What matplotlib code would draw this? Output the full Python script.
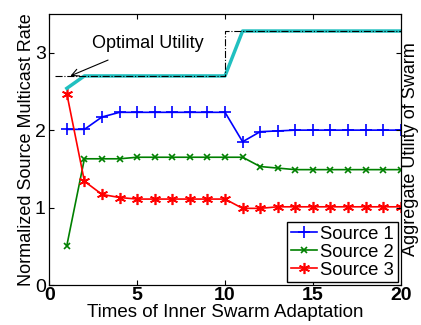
import numpy as np
import matplotlib
matplotlib.use("Agg")
import matplotlib.pyplot as plt

plt.rcParams['font.family'] = ['Liberation Sans', 'DejaVu Sans']

# data
times = np.arange(1, 21)
source1 = [2.01, 2.01, 2.17, 2.23, 2.23, 2.23, 2.23, 2.23, 2.23, 2.23,
           1.85, 1.98, 1.99, 2.0, 2.0, 2.0, 2.0, 2.0, 2.0, 2.0]
source2 = [0.51, 1.63, 1.63, 1.63, 1.65, 1.65, 1.65, 1.65, 1.65, 1.65,
           1.65, 1.53, 1.51, 1.49, 1.49, 1.49, 1.49, 1.49, 1.49, 1.49]
source3 = [2.47, 1.34, 1.17, 1.13, 1.11, 1.11, 1.11, 1.11, 1.11, 1.11,
           0.99, 0.99, 1.01, 1.01, 1.01, 1.01, 1.01, 1.01, 1.01, 1.01]
aggregate = [2.54, 2.70, 2.70, 2.70, 2.70, 2.70, 2.70, 2.70, 2.70, 2.70,
             3.28, 3.28, 3.28, 3.28, 3.28, 3.28, 3.28, 3.28, 3.28, 3.28]
opt_x = [0.3, 10, 10, 20]
opt_y = [2.70, 2.70, 3.28, 3.28]

fig, ax = plt.subplots(figsize=(4.21, 3.25), dpi=100)
fig.subplots_adjust(left=0.117, right=0.952, top=0.957, bottom=0.123)

ax.plot(times, source1, color='blue', marker='+', ms=8, mew=1.2, lw=1.2, label='Source 1')
ax.plot(times, source2, color='green', marker='x', ms=5, mew=1.2, lw=1.2, label='Source 2')
ax.plot(times, source3, color='red', marker=(6, 2, 0), ms=8, mew=1.2, lw=1.2, label='Source 3')
ax.plot(times, aggregate, color='#20c0c0', lw=2.5)
ax.plot(opt_x, opt_y, color='black', ls='-.', lw=0.8)

ax.annotate('Optimal Utility', xy=(1.2, 2.70), xytext=(5.6, 3.12),
            fontsize=13, ha='center', va='center',
            arrowprops=dict(arrowstyle='->', color='black', lw=0.8,
                            shrinkA=10, shrinkB=0))

ax.set_xlim(0, 20)
ax.set_ylim(0, 3.5)
ax.set_xticks([0, 5, 10, 15, 20])
ax.set_yticks([0, 1, 2, 3])
ax.tick_params(direction='in', top=True, labelsize=14)
ax.tick_params(axis='x', pad=1.5)
ax.tick_params(axis='y', pad=2.5)
for lab in ax.get_xticklabels():
    lab.set_fontweight('bold')
ax.set_xlabel('Times of Inner Swarm Adaptation', fontsize=13.5, labelpad=0)
ax.set_ylabel('Normalized Source Multicast Rate', fontsize=13, labelpad=0)
ax.legend(loc='lower right', fontsize=13.3, fancybox=False, edgecolor='black',
          framealpha=1, borderpad=0.2, labelspacing=0.05, handlelength=1.4,
          handletextpad=0.2, borderaxespad=0.15)

ax2 = ax.twinx()
ax2.set_ylim(0, 3.5)
ax2.set_yticks([0, 1, 2, 3])
ax2.tick_params(direction='in', labelright=False)
ax2.set_ylabel('Aggregate Utility of Swarm', fontsize=13, labelpad=1)

fig.savefig('out.png')
